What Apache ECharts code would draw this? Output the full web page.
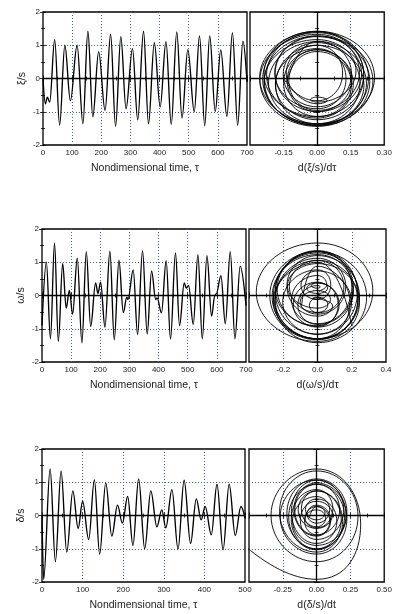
<!DOCTYPE html>
<html><head><meta charset="utf-8">
<script src="https://cdn.jsdelivr.net/npm/echarts@6/dist/echarts.min.js"></script>
<style>html,body{margin:0;padding:0;background:#fff}#c{width:395px;height:614px}</style>
</head><body><div id="c"></div>
<script>
// ---- data: times (tau) and values of successive turning points ----
const xiT = [0, 8, 15, 23, 40, 57, 75, 94, 117, 137, 154, 171, 191, 213, 232, 249, 267, 285, 307, 325, 345, 362, 382, 402, 422, 440, 459, 477, 497, 519, 537, 555, 572, 591, 610, 631, 650, 668, 686, 700];
const xiV = [0, -0.76, -0.56, -0.71, 1.17, -1.40, 1.0, -0.67, 1.0, -1.36, 1.42, -1.15, 0.81, -0.96, 1.33, -1.44, 1.26, -0.91, 0.9, -1.24, 1.42, -1.36, 1.08, -0.85, 1.11, -1.38, 1.40, -1.19, 0.87, -1.0, 1.28, -1.42, 1.28, -0.99, 0.86, -1.14, 1.38, -1.41, 1.12, -0.1];

const omT = [0, 15, 29, 43, 56, 71, 83, 94, 105, 121, 137, 152, 167, 184, 192, 201, 216, 233, 248, 264, 279, 291, 295, 313, 328, 345, 361, 376, 390, 395, 410, 426, 441, 458, 472, 488, 495, 503, 519, 535, 550, 566, 582, 593, 598, 614, 629, 646, 662, 680, 700];
const omV = [-0.9, 1.0, -1.3, 1.58, -1.38, 0.96, -0.38, 0.15, -0.56, 1.12, -1.42, 1.32, -0.93, 0.38, 0.06, 0.40, -0.95, 1.33, -1.33, 1.06, -0.51, -0.05, -0.12, 0.77, -1.17, 1.35, -1.16, 0.74, -0.12, -0.07, -0.52, 1.05, -1.31, 1.28, -0.91, 0.38, 0.22, 0.30, -0.87, 1.23, -1.3, 1.2, -0.62, 0.0, 0.05, 0.6, -0.85, 1.32, -1.3, 0.88, -0.3];

const deT = [0, 4, 20, 33, 47, 61, 76, 89, 100, 115, 129, 142, 157, 172, 186, 198, 211, 224, 238, 253, 268, 283, 295, 305, 320, 335, 350, 366, 380, 392, 402, 417, 431, 446, 461, 476, 490, 500];
const deV = [0, -1.92, 1.40, -1.39, 1.34, -1.10, 0.74, -0.39, 0.43, -0.72, 1.07, -1.16, 0.98, -0.62, 0.31, -0.23, 0.57, -0.9, 1.10, -1.0, 0.74, -0.34, 0.17, -0.37, 0.78, -1.01, 1.06, -0.84, 0.50, -0.13, 0.27, -0.58, 0.94, -1.03, 0.94, -0.6, 0.27, -0.08];

const timeMax = [700, 700, 500];
const phaseRange = [0.30, 0.4, 0.5];
const phaseStep = [0.15, 0.2, 0.25];
const phaseDecimals = [2, 1, 2];
const yNames = ['\u03be/s', '\u03c9/s', '\u03b4/s'];
const phaseNames = ['d(\u03be/s)/d\u03c4', 'd(\u03c9/s)/d\u03c4', 'd(\u03b4/s)/dt'];
const timeName = 'Nondimensional time, \u03c4';

// phase portrait: value against its rate of change, taken from the turning points above
function phasePoints(T, V) {
  const n = T.length, k = Math.PI / 2, out = [];
  const slope = (a, b) => k * (V[b] - V[a]) / (T[b] - T[a]);
  out.push([slope(0, 1), V[0]]);
  for (let i = 1; i < n; i++) {
    if (i > 1 && i < n - 1) out.push([slope(i - 1, i), (V[i - 1] + V[i]) / 2]);
    out.push(i === n - 1 ? [slope(i - 1, i), V[i]] : [0, V[i]]);
  }
  return out;
}
const pairs = (T, V) => T.map((t, i) => [t, V[i]]);

const FONT = 'Liberation Sans, Arial, Helvetica, sans-serif';
const BLUE = '#3d63cf';
const TXT = '#222';

const gridBoxes = [
  {left: 43, top: 12, width: 204, height: 133},
  {left: 250, top: 12, width: 137, height: 133},
  {left: 42, top: 229, width: 204, height: 133},
  {left: 249, top: 229, width: 137, height: 133},
  {left: 42, top: 449, width: 203, height: 133},
  {left: 249, top: 449, width: 137, height: 133}
];
const grid = gridBoxes.map(g => Object.assign({show: true, borderColor: '#000', borderWidth: 1.3, backgroundColor: 'transparent', containLabel: false}, g));

const tick = () => ({show: true, inside: true, length: 3, lineStyle: {color: '#000', width: 0.8}});
const minor = () => ({show: true, splitNumber: 2, length: 2, lineStyle: {color: '#000', width: 0.8}});
const split = () => ({show: true, showMinLine: false, showMaxLine: false, lineStyle: {color: BLUE, type: [1, 2], width: 1}});

const xAxis = [], yAxis = [], series = [];
for (let p = 0; p < 3; p++) {
  for (let side = 0; side < 2; side++) {
    const gi = p * 2 + side;
    const isTime = side === 0;
    const xmin = isTime ? 0 : -phaseRange[p];
    const xmax = isTime ? timeMax[p] : phaseRange[p];
    const xint = isTime ? 100 : phaseStep[p];
    xAxis.push({
      type: 'value', gridIndex: gi, position: 'bottom', min: xmin, max: xmax, interval: xint,
      axisLine: {show: false}, axisTick: tick(), minorTick: minor(), splitLine: split(),
      axisLabel: {fontSize: 8, color: TXT, fontFamily: FONT, margin: 4, showMinLabel: isTime,
        formatter: isTime ? (v => String(Math.round(v))) : (v => v.toFixed(phaseDecimals[p]))},
      name: isTime ? timeName : phaseNames[p], nameLocation: 'middle', nameGap: 18, nameMoveOverlap: false,
      nameTextStyle: {fontSize: 10.5, color: TXT, fontFamily: FONT}
    });
    xAxis.push({
      type: 'value', gridIndex: gi, position: 'top', min: xmin, max: xmax, interval: xint,
      axisLine: {show: false}, axisTick: tick(), minorTick: minor(), splitLine: {show: false}, axisLabel: {show: false}
    });
    yAxis.push({
      type: 'value', gridIndex: gi, position: 'left', min: -2, max: 2, interval: 1,
      axisLine: {show: false}, axisTick: tick(), minorTick: minor(), splitLine: split(),
      axisLabel: {show: isTime, fontSize: 8, color: TXT, fontFamily: FONT, margin: 3},
      name: isTime ? yNames[p] : '', nameLocation: 'middle', nameGap: 15, nameMoveOverlap: false,
      nameTextStyle: {fontSize: 10.5, color: TXT, fontFamily: FONT}
    });
    yAxis.push({
      type: 'value', gridIndex: gi, position: 'right', min: -2, max: 2, interval: 1,
      axisLine: {show: false}, axisTick: tick(), minorTick: minor(), splitLine: {show: false}, axisLabel: {show: false}
    });
  }
}

const T = [xiT, omT, deT], V = [xiV, omV, deV];
for (let p = 0; p < 3; p++) {
  const zeroLine = (extra) => ({
    silent: true, symbol: ['none', 'none'], label: {show: false}, animation: false,
    lineStyle: {color: '#000', type: 'solid', width: 1.3},
    emphasis: {disabled: true}, data: extra
  });
  series.push({
    type: 'line', xAxisIndex: p * 4, yAxisIndex: p * 4, data: pairs(T[p], V[p]),
    showSymbol: false, smooth: 0.36, smoothMonotone: 'x',
    lineStyle: {color: '#000', width: 1.35}, z: 3,
    markLine: zeroLine([{yAxis: 0}])
  });
  series.push({
    type: 'line', xAxisIndex: p * 4 + 2, yAxisIndex: p * 4 + 2, data: phasePoints(T[p], V[p]),
    showSymbol: false, smooth: 0.55,
    lineStyle: {color: '#000', width: 0.9}, z: 3,
    markLine: zeroLine([{yAxis: 0}, {xAxis: 0}])
  });
}

const chart = echarts.init(document.getElementById('c'), null, {renderer: 'canvas'});
chart.setOption({animation: false, backgroundColor: '#fff', grid, xAxis, yAxis, series});
</script>
</body></html>
